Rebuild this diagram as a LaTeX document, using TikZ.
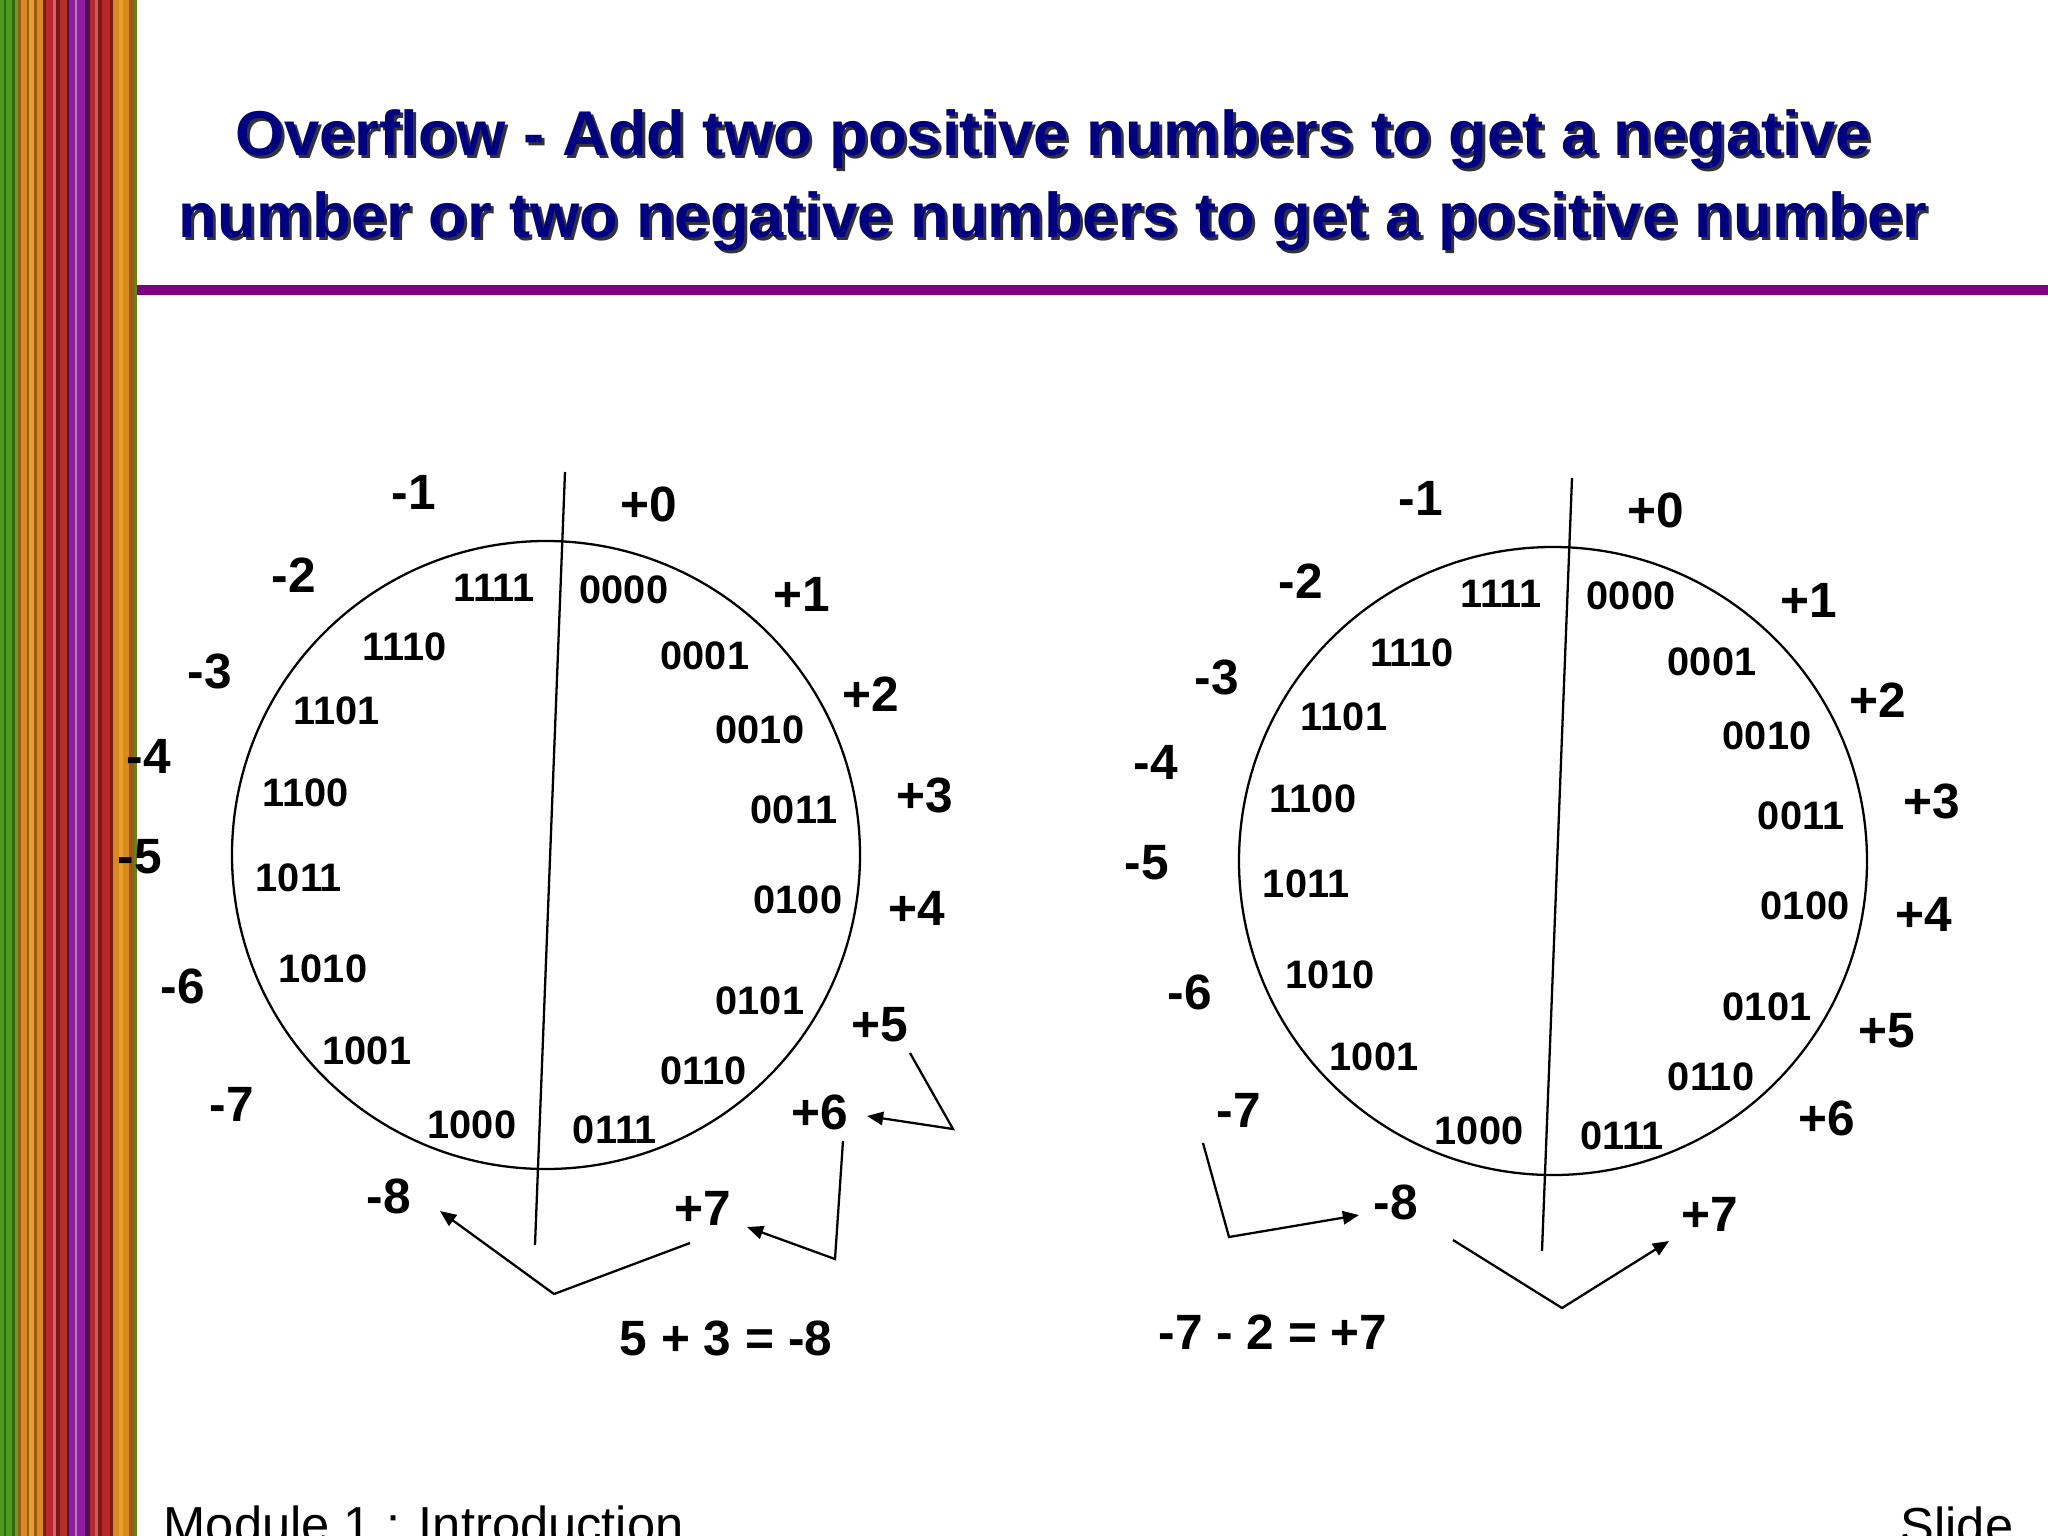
\documentclass[tikz,border=0pt]{standalone}
\usepackage{fontspec}
\setmainfont{Liberation Sans}
\usepackage{xcolor}
\usetikzlibrary{arrows.meta}

\definecolor{titlenavy}{RGB}{0,0,128}
\definecolor{barpurple}{RGB}{128,0,128}
\definecolor{stripegreen}{HTML}{4E9A1C}
\definecolor{stripedkgreen}{HTML}{2F6B10}
\definecolor{stripeorange}{HTML}{D98A1E}
\definecolor{stripebrown}{HTML}{9A5A1A}
\definecolor{stripered}{HTML}{B8282A}
\definecolor{stripedkred}{HTML}{7A1A18}
\definecolor{stripepurple}{HTML}{8E1C9C}
\definecolor{stripedkpurple}{HTML}{4E1050}
\definecolor{stripelt}{HTML}{E8A030}

\begin{document}
\begin{tikzpicture}[x=0.01cm,y=-0.01cm,
    titletext/.style={font=\fontsize{18pt}{21pt}\selectfont\bfseries,inner sep=0,anchor=base},
    bits/.style={font=\fontsize{11.3pt}{13pt}\selectfont\bfseries,inner sep=0},
    nums/.style={font=\fontsize{14.1pt}{16pt}\selectfont\bfseries,inner sep=0},
    foot/.style={font=\fontsize{14.4pt}{17pt}\selectfont,inner sep=0,anchor=base west},
    ring/.style={line width=0.65pt},
    overarrow/.style={-{Triangle[length=4.6pt,width=3.8pt]},line width=0.65pt}]
  \useasboundingbox (0,0) rectangle (2048,1536);
  \clip (0,0) rectangle (2048,1536);

  % striped band on the left
  \foreach \sx/\sw/\sc in {0/4/stripegreen, 4/2/stripedkgreen, 6/6/stripegreen,
      12/3/stripedkgreen, 15/3/stripegreen!70!stripeorange, 18/3/stripebrown,
      21/6/stripeorange, 27/2/stripebrown, 29/5/stripelt, 34/3/stripebrown,
      37/6/stripeorange, 43/3/stripedkred, 46/7/stripered, 53/3/stripered!70!white,
      56/4/stripedkred, 60/7/stripered!80!stripebrown, 67/2/stripedkpurple,
      69/6/stripepurple, 75/2/stripepurple!60!white, 77/8/stripepurple,
      85/5/stripedkpurple, 90/5/stripered, 95/3/stripered!75!white, 98/4/stripedkred,
      102/8/stripered, 110/3/stripedkred, 113/6/stripeorange, 119/4/stripelt,
      123/6/stripeorange, 129/5/stripebrown, 134/3/stripegreen!60!stripebrown}
    \fill[fill=\sc] (\sx,0) rectangle (\sx+\sw,1536);

  % title
  \node[titletext,text=black!80] (title1s) at (1056,158) {Overflow - Add two positive numbers to get a negative};
  \node[titletext,text=titlenavy] (title1) at (1053,155) {Overflow - Add two positive numbers to get a negative};
  \node[titletext,text=black!80] (title2s) at (1056,240) {number or two negative numbers to get a positive number};
  \node[titletext,text=titlenavy] (title2) at (1053,237) {number or two negative numbers to get a positive number};
  \fill[barpurple] (137,285) rectangle (2048,295);

  % the two number wheels
  \foreach \side/\dx/\dy in {a/0/0,b/1007/6}{
    \begin{scope}[shift={(\dx,\dy)}]
      \coordinate (\side-c) at (546,855);
      \coordinate (\side-top) at (565,472);
      \coordinate (\side-bot) at (535,1245);
      \draw[ring] (\side-c) circle [radius=314];
      \draw[ring] (\side-top) -- (\side-bot);
      \foreach \nm/\lab/\px/\py in {m1/-1/414/492, p0/+0/649/504, m2/-2/294/575,
          p1/+1/802/594, m3/-3/210/671, p2/+2/871/694, m4/-4/149/756, p3/+3/925/795,
          m5/-5/140/857, p4/+4/917/908, m6/-6/183/986, p5/+5/880/1025,
          m7/-7/232/1104, p6/+6/820/1112, m8/-8/389/1196, p7/+7/703/1208}
        \node[nums] (\side-\nm) at (\px,\py) {\lab};
      \foreach \nm/\px/\py in {1111/494/588, 0000/624/590, 1110/405/647, 0001/705/656,
          1101/337/711, 0010/760/730, 1100/306/793, 0011/794/810, 1011/299/878,
          0100/798/900, 1010/323/969, 0101/760/1001, 1001/367/1051, 0110/704/1071,
          1000/472/1125, 0111/615/1130}
        \node[bits] (\side-b\nm) at (\px,\py) {\nm};
    \end{scope}
  }

  % 5 + 3 runs past +7 into -8
  \coordinate (a-s1) at (690,1243);
  \coordinate (a-k1) at (554,1294);
  \coordinate (a-t1) at (440,1211);
  \coordinate (a-s2) at (843,1141);
  \coordinate (a-k2) at (835,1259);
  \coordinate (a-t2) at (747,1227);
  \coordinate (a-s3) at (910,1053);
  \coordinate (a-k3) at (953,1129);
  \coordinate (a-t3) at (867,1116);
  \draw[overarrow] (a-s1) -- (a-k1) -- (a-t1);
  \draw[overarrow] (a-s2) -- (a-k2) -- (a-t2);
  \draw[overarrow] (a-s3) -- (a-k3) -- (a-t3);
  \node[nums] (sumA) at (726,1338) {5 + 3 = -8};

  % -7 - 2 runs past -8 into +7
  \coordinate (b-s1) at (1203,1143);
  \coordinate (b-k1) at (1229,1237);
  \coordinate (b-t1) at (1359,1215);
  \coordinate (b-s2) at (1453,1240);
  \coordinate (b-k2) at (1562,1308);
  \coordinate (b-t2) at (1669,1241);
  \draw[overarrow] (b-s1) -- (b-k1) -- (b-t1);
  \draw[overarrow] (b-s2) -- (b-k2) -- (b-t2);
  \node[nums] (sumB) at (1273,1332) {-7 - 2 = +7};

  % footer
  \node[foot] (module) at (163,1542) {Module 1 : Introduction};
  \node[foot] (slide) at (1900,1543) {Slide};
\end{tikzpicture}
\end{document}
